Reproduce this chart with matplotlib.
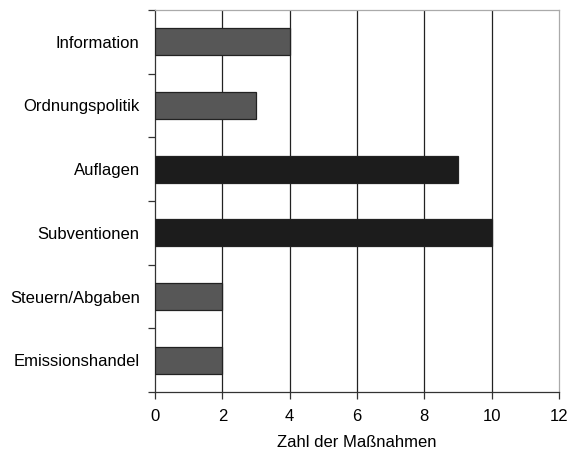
import matplotlib

matplotlib.use("Agg")
import matplotlib.pyplot as plt
import numpy as np

categories = ["Information", "Ordnungspolitik", "Auflagen", "Subventionen", "Steuern/Abgaben", "Emissionshandel"]
values = [4, 3, 9, 10, 2, 2]
bar_colors = ["#575757", "#575757", "#1c1c1c", "#1c1c1c", "#575757", "#575757"]
x_ticks = [0, 2, 4, 6, 8, 10, 12]

plt.rcParams["font.family"] = ["Liberation Sans", "DejaVu Sans"]

fig = plt.figure(figsize=(5.71, 4.53), dpi=100)
ax = fig.add_axes([155 / 571, 1 - 392 / 453, 404 / 571, 382 / 453])

n = len(categories)
y = np.arange(n)[::-1]
ax.barh(y, values, height=0.42, color=bar_colors, edgecolor="#222222", linewidth=0.9, zorder=3)

ax.set_xlim(0, 12)
ax.set_ylim(-0.5, n - 0.5)
ax.set_xticks(x_ticks)
ax.set_xticklabels([str(t) for t in x_ticks], fontsize=12)
ax.set_yticks(y)
ax.set_yticklabels(categories, fontsize=12)
ax.set_yticks(np.arange(-0.5, n, 1.0), minor=True)
ax.tick_params(axis="y", which="major", length=0, pad=11)
ax.tick_params(axis="y", which="minor", length=5, width=0.9, color="#333333", direction="out")
ax.tick_params(axis="x", length=5, width=0.9, color="#333333", direction="out", pad=7)

for t in x_ticks[1:-1]:
    ax.axvline(t, color="#222222", linewidth=0.9, zorder=1)

ax.spines["left"].set_color("#333333")
ax.spines["bottom"].set_color("#333333")
ax.spines["top"].set_color("#aaaaaa")
ax.spines["right"].set_color("#aaaaaa")
for s in ax.spines.values():
    s.set_linewidth(0.9)

ax.set_xlabel("Zahl der Maßnahmen", fontsize=12, labelpad=8)

fig.savefig("out.png", dpi=100)
